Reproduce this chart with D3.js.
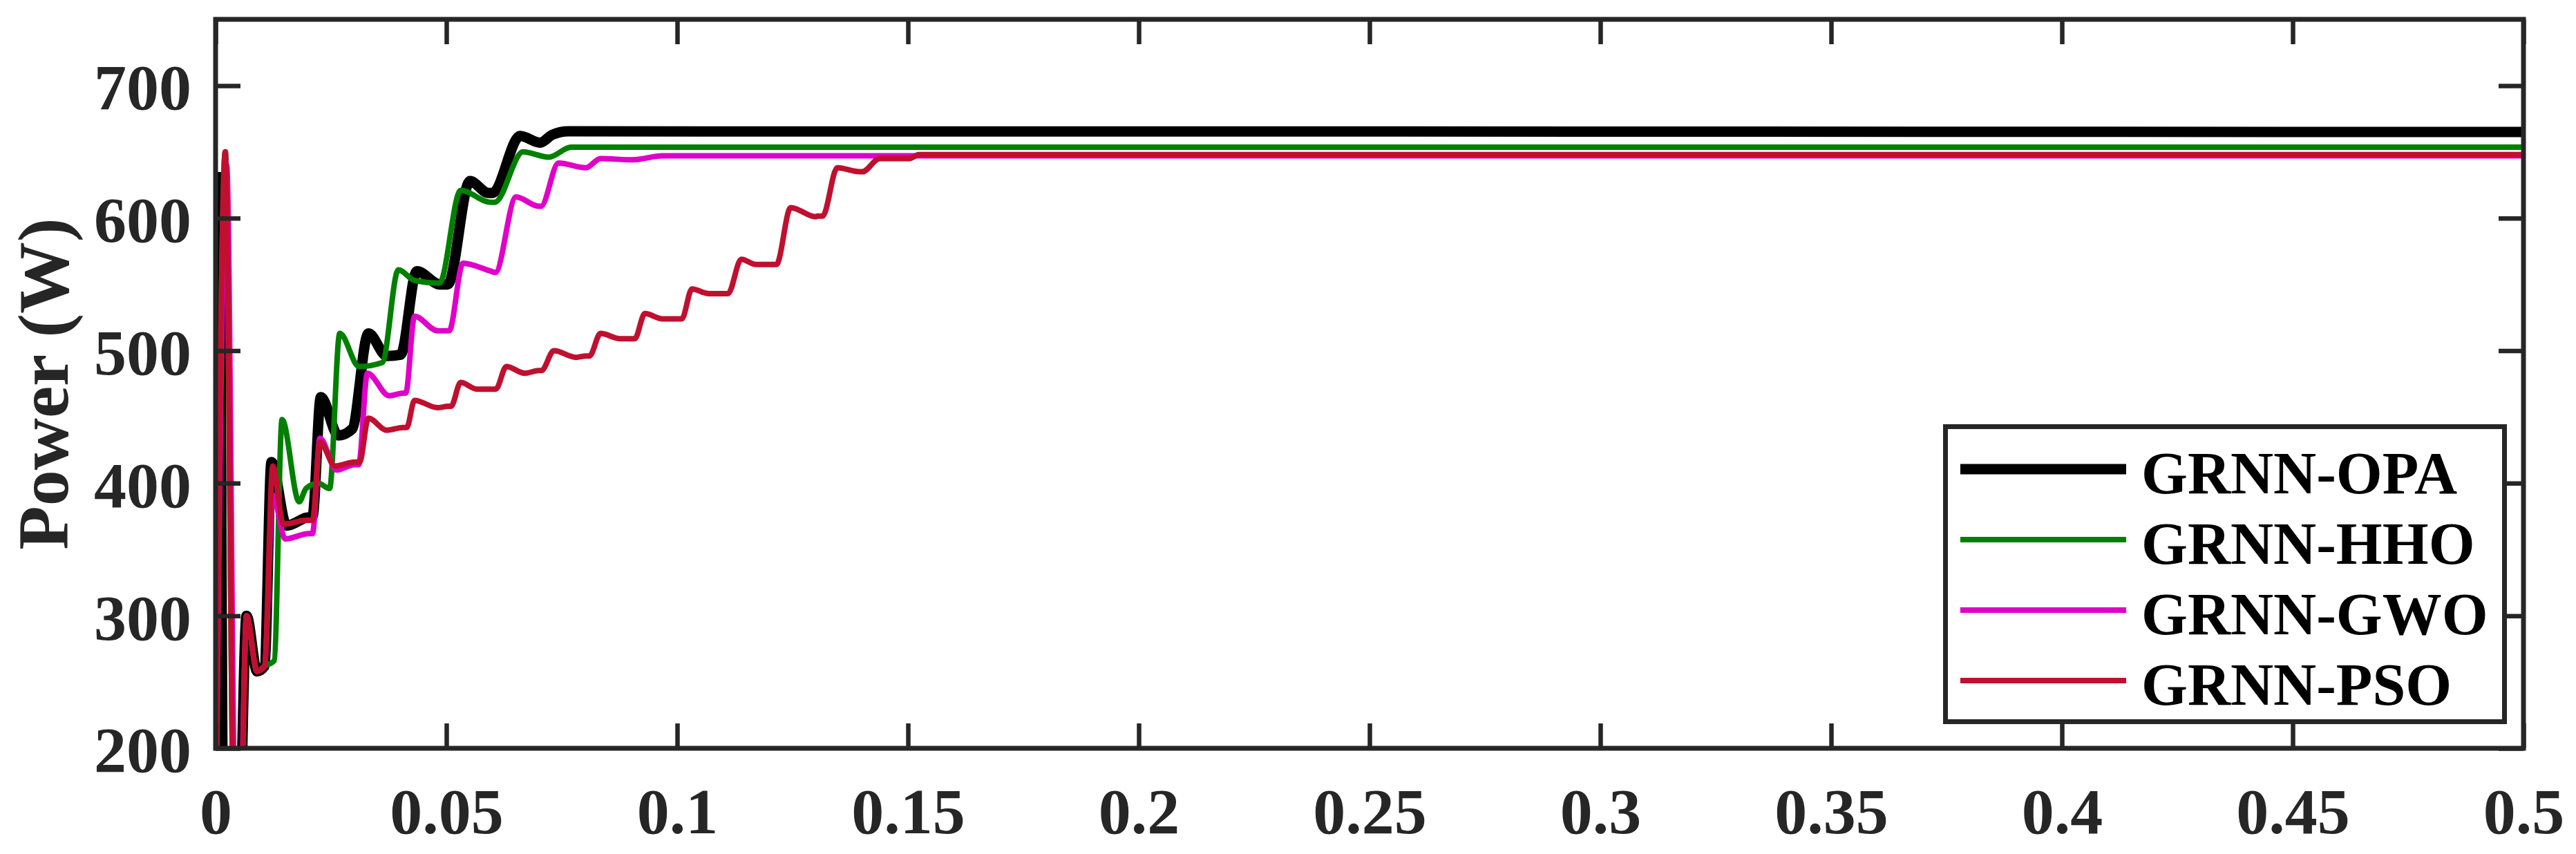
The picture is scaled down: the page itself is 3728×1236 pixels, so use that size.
<!DOCTYPE html>
<html>
<head>
<meta charset="utf-8">
<script src="https://d3js.org/d3.v7.min.js"></script>
<style>
    body { margin: 0; background: #fff; }
    svg text { font-family: "Liberation Serif", "Times New Roman", serif; font-weight: bold; fill: #262626; }
</style>
</head>
<body>
<script>
//place script in anon function
(function(){

// series names (legend order)
var seriesNames = ["GRNN-OPA", "GRNN-HHO", "GRNN-GWO", "GRNN-PSO"];

// time (s) and power (W)
var timeOPA = [0, 0.0008, 0.0017, 0.0050, 0.0067, 0.0090, 0.0106, 0.0121, 0.0154, 0.0196, 0.0210, 0.0228, 0.0266, 0.0296, 0.0331, 0.0371, 0.0401, 0.0436, 0.0486, 0.0503, 0.0551, 0.0591, 0.0600, 0.0660, 0.0703, 0.0730, 0.0765, 0.5];
var powerOPA = [150, 631, 120, 120, 300, 258, 262, 416, 368, 374, 375, 465, 436, 441, 513, 496, 497, 560, 550, 550, 628, 619, 619, 662, 657, 663, 665.5, 665];

var timeHHO = [0, 0.0021, 0.0041, 0.0053, 0.0067, 0.0090, 0.0106, 0.0127, 0.0144, 0.0181, 0.0196, 0.0222, 0.0247, 0.0269, 0.0311, 0.0361, 0.0396, 0.0431, 0.0485, 0.0531, 0.0596, 0.0605, 0.0666, 0.0722, 0.0770, 0.5];
var powerHHO = [120, 650, 120, 120, 300, 258, 262, 266, 448, 386, 396, 400, 396, 513, 488, 491, 561, 553, 551, 621, 612, 612, 650, 646, 653.5, 653.5];

var timeGWO = [0, 0.0024, 0.0044, 0.0052, 0.0067, 0.0090, 0.0106, 0.0124, 0.0151, 0.0202, 0.0210, 0.0226, 0.0262, 0.0301, 0.0310, 0.0329, 0.0376, 0.0406, 0.0412, 0.0431, 0.0481, 0.0506, 0.0536, 0.0596, 0.0606, 0.0651, 0.0700, 0.0705, 0.0743, 0.0802, 0.0834, 0.0904, 0.0968, 0.5];
var powerGWO = [120, 640, 120, 120, 300, 258, 262, 391, 358, 362, 362, 434, 410, 414, 414, 483, 466, 468, 468, 526, 515, 515, 566, 560, 559, 616, 609, 609, 641.5, 638, 645, 644, 647, 647];

var timePSO = [0, 0.0021, 0.0041, 0.0053, 0.0067, 0.0090, 0.0106, 0.0124, 0.0147, 0.0196, 0.0210, 0.0226, 0.0259, 0.0301, 0.0312, 0.0331, 0.0371, 0.0406, 0.0414, 0.0431, 0.0481, 0.0503, 0.0510, 0.0531, 0.0566, 0.0600, 0.0607, 0.0630, 0.0670, 0.0700, 0.0706, 0.0733, 0.0781, 0.0802, 0.0810, 0.0834, 0.0877, 0.0901, 0.0908, 0.0930, 0.0968, 0.1003, 0.1010, 0.1032, 0.1069, 0.1102, 0.1110, 0.1139, 0.1171, 0.1203, 0.1215, 0.1246, 0.1300, 0.1304, 0.1315, 0.1347, 0.1395, 0.1401, 0.1439, 0.1503, 0.1524, 0.5];
var powerPSO = [120, 650, 120, 120, 300, 258, 262, 413, 369, 372, 372, 431, 413, 416, 416, 449, 440, 442, 442, 462.5, 457, 458, 458, 476, 471, 471, 471, 488, 483, 485, 485, 500, 495, 496, 496, 513, 509, 509, 509, 528, 524, 524, 524, 546.5, 543, 543, 543, 569, 565, 565, 565, 608, 601, 601.5, 601.5, 638, 635, 635, 645, 645, 648, 648];

// axis ticks
var xTickValues = [0, 0.05, 0.1, 0.15, 0.2, 0.25, 0.3, 0.35, 0.4, 0.45, 0.5];
var xTickLabels = ["0", "0.05", "0.1", "0.15", "0.2", "0.25", "0.3", "0.35", "0.4", "0.45", "0.5"];
var yTickValues = [200, 300, 400, 500, 600, 700];
var yTickLabels = ["200", "300", "400", "500", "600", "700"];

// styles per series (same order as seriesNames)
var seriesColors = ["#000000", "#008000", "#e000c8", "#c0102f"],
    seriesWidths = [15, 8, 8, 8];

// frame dimensions
var width = 3728,
    height = 1236,
    plotLeft = 312,
    plotRight = 3652,
    plotTop = 28,
    plotBottom = 1083,
    tickLen = 36,
    axisColor = "#262626";

var svg = d3.select("body")
    .append("svg")
    .attr("width", width)
    .attr("height", height);

svg.append("rect")
    .attr("width", width)
    .attr("height", height)
    .attr("fill", "#fff");

// scales
var x = d3.scaleLinear()
    .domain([0, 0.5])
    .range([plotLeft, plotRight]);

var y = d3.scaleLinear()
    .domain([200, 750])
    .range([plotBottom, plotTop]);

// clip lines to the plot box
svg.append("clipPath")
    .attr("id", "plotClip")
  .append("rect")
    .attr("x", plotLeft)
    .attr("y", plotTop)
    .attr("width", plotRight - plotLeft)
    .attr("height", plotBottom - plotTop);

var series = [
    d3.zip(timeOPA, powerOPA),
    d3.zip(timeHHO, powerHHO),
    d3.zip(timeGWO, powerGWO),
    d3.zip(timePSO, powerPSO)
];

var line = d3.line()
    .x(function(d){ return x(d[0]); })
    .y(function(d){ return y(d[1]); })
    .curve(d3.curveMonotoneX);

svg.append("g")
    .attr("clip-path", "url(#plotClip)")
  .selectAll(".series")
    .data(series)
    .enter()
    .append("path")
    .attr("class", "series")
    .attr("d", line)
    .attr("fill", "none")
    .attr("stroke", function(d, i){ return seriesColors[i]; })
    .attr("stroke-width", function(d, i){ return seriesWidths[i]; })
    .attr("stroke-linejoin", "round");

// axes: inward ticks on all four sides
function styleAxis(g){
    g.select(".domain").remove();
    g.selectAll(".tick line")
        .attr("stroke", axisColor)
        .attr("stroke-width", 6.5);
    g.selectAll("text")
        .style("font-size", "94px");
}

var xAxis = svg.append("g")
    .attr("transform", "translate(0," + plotBottom + ")")
    .call(d3.axisBottom(x)
        .tickValues(xTickValues)
        .tickFormat(function(d, i){ return xTickLabels[i]; })
        .tickSizeInner(-tickLen)
        .tickSizeOuter(0))
    .call(styleAxis);
xAxis.selectAll("text")
    .attr("y", 123)
    .attr("dy", null);

svg.append("g")
    .attr("transform", "translate(0," + plotTop + ")")
    .call(d3.axisTop(x)
        .tickValues(xTickValues)
        .tickFormat("")
        .tickSizeInner(-tickLen)
        .tickSizeOuter(0))
    .call(styleAxis);

var yAxis = svg.append("g")
    .attr("transform", "translate(" + plotLeft + ",0)")
    .call(d3.axisLeft(y)
        .tickValues(yTickValues)
        .tickFormat(function(d, i){ return yTickLabels[i]; })
        .tickSizeInner(-tickLen)
        .tickSizeOuter(0))
    .call(styleAxis);
yAxis.selectAll("text")
    .attr("x", -35)
    .attr("dy", "0.36em");

svg.append("g")
    .attr("transform", "translate(" + plotRight + ",0)")
    .call(d3.axisRight(y)
        .tickValues(yTickValues)
        .tickFormat("")
        .tickSizeInner(-tickLen)
        .tickSizeOuter(0))
    .call(styleAxis);

// plot frame
svg.append("rect")
    .attr("x", plotLeft)
    .attr("y", plotTop)
    .attr("width", plotRight - plotLeft)
    .attr("height", plotBottom - plotTop)
    .attr("fill", "none")
    .attr("stroke", axisColor)
    .attr("stroke-width", 7);

// y axis title
svg.append("text")
    .attr("transform", "translate(98," + ((plotTop + plotBottom) / 2) + ") rotate(-90)")
    .attr("text-anchor", "middle")
    .style("font-size", "104px")
    .text("Power (W)");

// legend
var legend = svg.append("g")
    .attr("class", "legend");

legend.append("rect")
    .attr("x", 2815.5)
    .attr("y", 617.5)
    .attr("width", 809)
    .attr("height", 427)
    .attr("fill", "#fff")
    .attr("stroke", axisColor)
    .attr("stroke-width", 7);

var items = legend.selectAll(".item")
    .data(seriesNames)
    .enter()
    .append("g")
    .attr("class", "item")
    .attr("transform", function(d, i){ return "translate(0," + (679 + i * 102) + ")"; });

items.append("line")
    .attr("x1", 2837)
    .attr("x2", 3077)
    .attr("stroke", function(d, i){ return seriesColors[i]; })
    .attr("stroke-width", function(d, i){ return seriesWidths[i]; });

items.append("text")
    .attr("x", 3099)
    .attr("y", 35)
    .style("font-size", "86px")
    .style("fill", "#000")
    .text(function(d){ return d; });

})();
</script>
</body>
</html>
